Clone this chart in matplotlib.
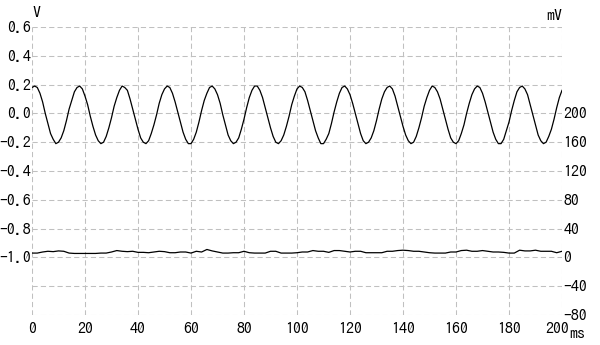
import numpy as np
import matplotlib
matplotlib.use("Agg")
import matplotlib.pyplot as plt
from matplotlib.transforms import ScaledTranslation

plt.rcParams['font.family'] = ['IPAGothic', 'DejaVu Sans']

# Upper trace (V), one sample per ms, 0..200 ms
t_volt = np.arange(0, 201, 1)
volt = [
    0.18, 0.19, 0.18, 0.14, 0.08, 0.00, -0.07, -0.14, -0.18, -0.21,
    -0.20, -0.17, -0.12, -0.05, 0.03, 0.09, 0.15, 0.18, 0.19, 0.17,
    0.12, 0.06, -0.02, -0.09, -0.15, -0.19, -0.21, -0.20, -0.16, -0.10,
    -0.03, 0.05, 0.11, 0.16, 0.19, 0.18, 0.16, 0.10, 0.03, -0.04,
    -0.11, -0.17, -0.20, -0.21, -0.19, -0.14, -0.08, -0.01, 0.07, 0.13,
    0.17, 0.19, 0.18, 0.14, 0.08, 0.01, -0.06, -0.13, -0.18, -0.21,
    -0.21, -0.18, -0.13, -0.06, 0.02, 0.09, 0.14, 0.18, 0.19, 0.17,
    0.13, 0.07, -0.01, -0.08, -0.15, -0.19, -0.21, -0.20, -0.17, -0.11,
    -0.04, 0.04, 0.11, 0.16, 0.19, 0.19, 0.16, 0.11, 0.04, -0.03,
    -0.10, -0.16, -0.20, -0.21, -0.19, -0.15, -0.09, -0.02, 0.06, 0.12,
    0.17, 0.19, 0.18, 0.15, 0.09, 0.02, -0.05, -0.12, -0.17, -0.21,
    -0.21, -0.18, -0.14, -0.07, 0.01, 0.08, 0.14, 0.18, 0.19, 0.17,
    0.13, 0.07, 0.00, -0.07, -0.14, -0.19, -0.21, -0.20, -0.17, -0.12,
    -0.05, 0.03, 0.10, 0.15, 0.18, 0.19, 0.17, 0.12, 0.05, -0.02,
    -0.09, -0.15, -0.19, -0.21, -0.20, -0.16, -0.10, -0.03, 0.05, 0.11,
    0.16, 0.19, 0.18, 0.15, 0.10, 0.03, -0.04, -0.11, -0.17, -0.20,
    -0.21, -0.19, -0.14, -0.08, 0.00, 0.07, 0.13, 0.17, 0.19, 0.18,
    0.14, 0.08, 0.01, -0.06, -0.13, -0.18, -0.21, -0.21, -0.18, -0.12,
    -0.06, 0.02, 0.09, 0.15, 0.18, 0.19, 0.17, 0.13, 0.06, -0.01,
    -0.08, -0.15, -0.19, -0.21, -0.20, -0.16, -0.11, -0.04, 0.04, 0.11,
    0.16,
]

# Lower trace (mV), one sample per 2 ms
t_mv = np.arange(0, 201, 2)
millivolt = [
    6, 6, 7.5, 8.5, 8, 9, 8.5, 6, 5.5, 5.5,
    5.5, 5.5, 5.5, 6, 6, 7.5, 9.5, 8.5, 8, 8.5,
    7, 7, 6.5, 7.5, 8.5, 8, 6.5, 6.5, 7.5, 7.5,
    6, 8.5, 7.5, 11, 9, 7.5, 6, 6, 6.5, 6.5,
    8.5, 6.5, 6, 6, 6, 8.5, 8.5, 6, 6, 6,
    6.5, 7.5, 7.5, 9.5, 8.5, 8.5, 7, 9.5, 9.5, 8.5,
    7.5, 8.5, 8.5, 6.5, 6.5, 6.5, 6.5, 8.5, 8.5, 9.5,
    10, 9.5, 8.5, 8.5, 7.5, 6.5, 6, 6, 6, 7.5,
    7.5, 9.5, 10, 8.5, 8.5, 9.5, 8.5, 7.5, 7.5, 7,
    6, 6, 10, 9, 9, 10, 8.5, 8.5, 8.5, 6.5,
    8.5,
]

left_ticks = [0.6, 0.4, 0.2, 0.0, -0.2, -0.4, -0.6, -0.8, -1.0, -1.2, -1.4]
left_labels = ['0.6', '0.4', '0.2', '0.0', '-0.2', '-0.4', '-0.6',
               '-0.8', '-1.0', '', '']
right_ticks = [320, 280, 240, 200, 160, 120, 80, 40, 0, -40, -80]
right_labels = ['', '', '', '200', '160', '120', '80', '40', '0', '-40', '-80']
x_ticks = [0, 20, 40, 60, 80, 100, 120, 140, 160, 180, 200]

fig = plt.figure(figsize=(6.0, 3.45), dpi=100)
ax = fig.add_axes([32 / 600, 1 - 315 / 345, 530 / 600, 288 / 345])
ax2 = ax.twinx()

grid_kw = dict(color='#c0c0c0', linewidth=0.75, dashes=(5, 3))
for y in left_ticks:
    ax.axhline(y, **grid_kw, zorder=0)
for x in x_ticks:
    ax.axvline(x, **grid_kw, zorder=0)

ax.plot(t_volt, volt, color='black', linewidth=0.9)
ax2.plot(t_mv, millivolt, color='black', linewidth=0.9)

ax.set_xlim(0, 200)
ax.set_ylim(-1.4, 0.6)
ax2.set_ylim(-80, 320)

ax.set_xticks(x_ticks)
ax.set_yticks(left_ticks)
ax.set_yticklabels(left_labels)
ax2.set_yticks(right_ticks)
ax2.set_yticklabels(right_labels)

for a in (ax, ax2):
    for s in a.spines.values():
        s.set_visible(False)
    a.tick_params(length=0, labelsize=11.5)
ax.tick_params(axis='y', pad=1)
ax.tick_params(axis='x', pad=5)
ax2.tick_params(axis='y', pad=1)

# nudge the last x label left so it clears the "ms" unit
last = ax.get_xticklabels()[-1]
last.set_transform(last.get_transform() + ScaledTranslation(-5 / 100, 0, fig.dpi_scale_trans))

fig.text(32 / 600, 1 - 13 / 345, 'V', fontsize=11.5, va='center', ha='left')
fig.text(562 / 600, 1 - 16 / 345, 'mV', fontsize=11.5, va='center', ha='right')
fig.text(569 / 600, 1 - 334 / 345, 'ms', fontsize=11.5, va='center', ha='left')

fig.savefig('out.png', dpi=100)
